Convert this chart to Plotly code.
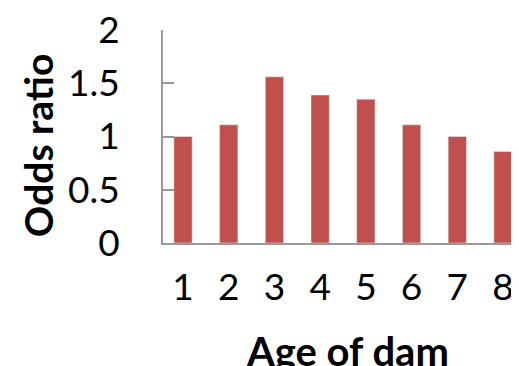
import plotly.graph_objects as go

ages = [1, 2, 3, 4, 5, 6, 7, 8]
odds_ratio = [1.0, 1.11, 1.56, 1.39, 1.35, 1.11, 1.0, 0.86]
y_ticks = [0, 0.5, 1, 1.5, 2]
y_tick_labels = ["0", "0.5", "1", "1.5", "2"]

FONT = "Lato"
fig = go.Figure(go.Bar(x=ages, y=odds_ratio, marker_color="#C0504D", width=0.4))

fig.update_layout(
    width=511, height=358,
    margin=dict(l=155, r=0, t=22, b=123),
    plot_bgcolor="white", paper_bgcolor="white",
    showlegend=False,
    font=dict(family=FONT, color="#000000"),
    xaxis=dict(range=[0.562, 8.35], tickvals=ages, ticktext=[str(a) for a in ages],
               showline=True, linecolor="#999999", linewidth=2, ticks="",
               showgrid=False, zeroline=False, tickfont=dict(size=37, family=FONT),
               ticklabelstandoff=11, automargin=False, ticklabeloverflow="allow"),
    yaxis=dict(range=[0, 2], tickvals=y_ticks, ticktext=y_tick_labels,
               showline=True, linecolor="#999999", linewidth=2,
               ticks="inside", ticklen=11, tickwidth=2, tickcolor="#999999",
               showgrid=False, zeroline=False, tickfont=dict(size=37, family=FONT),
               ticklabelstandoff=34, automargin=False, ticklabeloverflow="allow"),
    annotations=[
        dict(text="<b>Odds ratio</b>", xref="paper", yref="paper", x=-0.351, y=0.455,
             xanchor="center", yanchor="middle", textangle=-90, showarrow=False,
             font=dict(size=39, family=FONT, color="#000000")),
        dict(text="<b>Age of dam</b>", xref="paper", yref="paper", x=0.517, y=-0.505,
             xanchor="center", yanchor="middle", showarrow=False,
             font=dict(size=40, family=FONT, color="#000000")),
    ],
)

fig.write_html("out.html")
